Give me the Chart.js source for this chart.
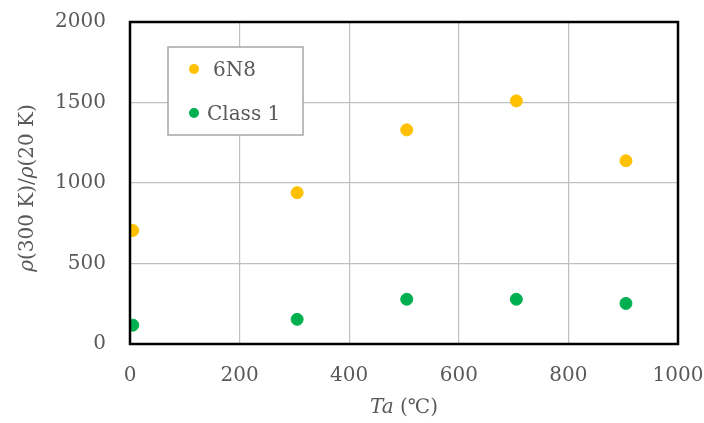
<!DOCTYPE html>
<html>
<head>
<meta charset="utf-8">
<script src="https://cdn.jsdelivr.net/npm/chart.js@4.4.1/dist/chart.umd.min.js"></script>
<style>
  html, body { margin: 0; padding: 0; background: #fff; }
  #wrap { width: 704px; height: 423px; }
</style>
</head>
<body>
<div id="wrap"><canvas id="chart" width="704" height="423"></canvas></div>
<script>
// annealing temperature (℃)
const temps = [5, 305, 505, 705, 905];
// RRR values
const rrr6N8 = [705, 940, 1330, 1510, 1138];
const rrrClass1 = [117, 153, 278, 278, 252];
const seriesNames = ['6N8', 'Class 1'];
const seriesColors = ['#FFC000', '#00B050'];
const xTicks = [0, 200, 400, 600, 800, 1000];
const yTicks = [0, 500, 1000, 1500, 2000];

const textColor = '#595959';
const serif = '"DejaVu Serif", "Liberation Serif", serif';

function toPoints(xs, ys) {
  return xs.map((x, i) => ({ x: x, y: ys[i] }));
}

// draw mixed italic/upright text pieces starting at x
function drawPieces(ctx, pieces, x, y) {
  pieces.forEach(p => {
    ctx.font = p.font;
    ctx.fillText(p.text, x, y);
    x += ctx.measureText(p.text).width;
  });
}
function piecesWidth(ctx, pieces) {
  let w = 0;
  pieces.forEach(p => { ctx.font = p.font; w += ctx.measureText(p.text).width; });
  return w;
}

const framePlugin = {
  id: 'frame',
  afterDraw(chart) {
    const ctx = chart.ctx;
    const a = chart.chartArea;
    ctx.save();
    // black box round the plot
    ctx.strokeStyle = '#000';
    ctx.lineWidth = 2.5;
    ctx.strokeRect(a.left, a.top, a.right - a.left, a.bottom - a.top);

    // legend box inside plot
    const lx = 168, ly = 47, lw = 135, lh = 88;
    ctx.fillStyle = '#fff';
    ctx.fillRect(lx, ly, lw, lh);
    ctx.strokeStyle = '#a6a6a6';
    ctx.lineWidth = 1.5;
    ctx.strokeRect(lx, ly, lw, lh);
    const rows = [{ my: 69, tx: 213 }, { my: 113, tx: 207 }];
    chart.data.datasets.forEach((ds, i) => {
      ctx.fillStyle = ds.backgroundColor;
      ctx.beginPath();
      ctx.arc(194, rows[i].my, 5, 0, Math.PI * 2);
      ctx.fill();
      ctx.fillStyle = textColor;
      ctx.font = '20px ' + serif;
      ctx.textBaseline = 'middle';
      ctx.textAlign = 'left';
      ctx.fillText(ds.label, rows[i].tx, rows[i].my + 2);
    });

    // axis titles
    ctx.fillStyle = textColor;
    ctx.textBaseline = 'middle';
    ctx.textAlign = 'left';
    const xt = [
      { text: 'Ta', font: 'italic 20px ' + serif },
      { text: ' (℃)', font: '20px ' + serif }
    ];
    const cx = (a.left + a.right) / 2;
    drawPieces(ctx, xt, cx - piecesWidth(ctx, xt) / 2, 408);

    const yt = [
      { text: 'ρ', font: 'italic 20px ' + serif },
      { text: '(300 K)/', font: '20px ' + serif },
      { text: 'ρ', font: 'italic 20px ' + serif },
      { text: '(20 K)', font: '20px ' + serif }
    ];
    ctx.translate(28, 188);
    ctx.rotate(-Math.PI / 2);
    drawPieces(ctx, yt, -piecesWidth(ctx, yt) / 2, 0);
    ctx.restore();
  }
};

new Chart(document.getElementById('chart'), {
  type: 'scatter',
  data: {
    datasets: [
      {
        label: seriesNames[0],
        data: toPoints(temps, rrr6N8),
        backgroundColor: seriesColors[0],
        borderColor: seriesColors[0],
        pointRadius: 6,
        pointHoverRadius: 6
      },
      {
        label: seriesNames[1],
        data: toPoints(temps, rrrClass1),
        backgroundColor: seriesColors[1],
        borderColor: seriesColors[1],
        pointRadius: 6,
        pointHoverRadius: 6
      }
    ]
  },
  options: {
    responsive: false,
    animation: false,
    layout: { padding: { left: 0, right: 26, top: 22, bottom: 0 } },
    plugins: {
      legend: { display: false },
      tooltip: { enabled: false }
    },
    scales: {
      x: {
        type: 'linear',
        min: 0,
        max: 1000,
        afterFit: (scale) => {
          scale.height = 79;
          scale.paddingLeft = 0;
          scale.paddingRight = 0;
        },
        afterBuildTicks: (scale) => { scale.ticks = xTicks.map(v => ({ value: v })); },
        grid: { color: '#bfbfbf', lineWidth: 1.2, drawTicks: false },
        border: { display: false },
        ticks: {
          color: textColor,
          padding: 20,
          font: { family: serif, size: 20 },
          maxRotation: 0,
          callback: (v) => String(v)
        }
      },
      y: {
        type: 'linear',
        min: 0,
        max: 2000,
        afterFit: (scale) => {
          scale.width = 130;
          scale.paddingTop = 0;
          scale.paddingBottom = 0;
        },
        afterBuildTicks: (scale) => { scale.ticks = yTicks.map(v => ({ value: v })); },
        grid: { color: '#bfbfbf', lineWidth: 1.2, drawTicks: false },
        border: { display: false },
        ticks: {
          color: textColor,
          padding: 24,
          font: { family: serif, size: 20 },
          callback: (v) => String(v)
        }
      }
    }
  },
  plugins: [framePlugin]
});
</script>
</body>
</html>
